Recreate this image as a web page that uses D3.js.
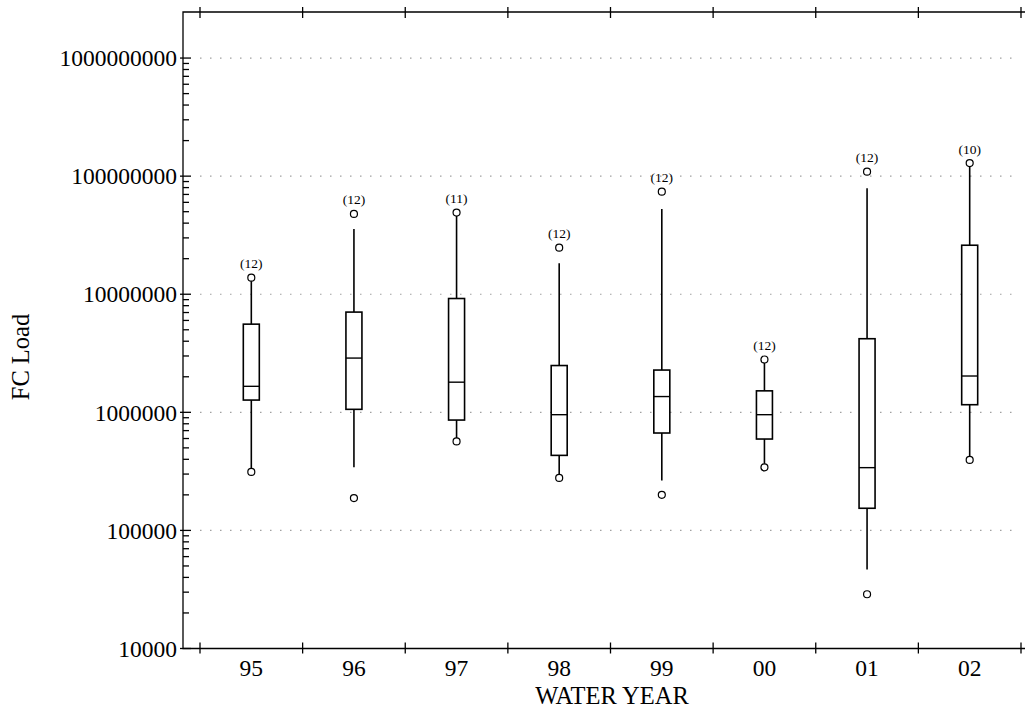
<!DOCTYPE html>
<html>
<head>
<meta charset="utf-8">
<script src="https://cdn.jsdelivr.net/npm/d3@7"></script>
<style>
    body { margin: 0; background: #fff; }
    svg { display: block; font-family: 'Liberation Serif', 'Times New Roman', serif; }
</style>
</head>
<body>
<div id="chart"></div>
<script>
// water years and sample counts
const years = [`95`, `96`, `97`, `98`, `99`, `00`, `01`, `02`]
const counts = [12, 12, 11, 12, 12, 12, 12, 10]

// box statistics (FC load)
const lowPoint = [313000, 188000, 567000, 278000, 200000, 342000, 28800, 395000]
const whiskerLow = [313000, 342000, 567000, 278000, 264000, 342000, 46600, 395000]
const q1 = [1270000, 1060000, 860000, 432000, 668000, 594000, 154000, 1160000]
const median = [1660000, 2880000, 1800000, 955000, 1360000, 955000, 340000, 2030000]
const q3 = [5580000, 7060000, 9200000, 2490000, 2280000, 1520000, 4200000, 26000000]
const whiskerHigh = [13800000, 35700000, 49100000, 18300000, 52800000, 2800000, 79000000, 129000000]
const highPoint = [13800000, 47900000, 49100000, 24800000, 73900000, 2800000, 109000000, 129000000]

const yTicks = [10000, 100000, 1000000, 10000000, 100000000, 1000000000]

const width = 1025, height = 712
const plotLeft = 183, plotTop = 12, plotBottom = 648.5, plotRight = 1025

const svg = d3.select(`#chart`).append(`svg`).attr(`width`, width).attr(`height`, height)

const x = d3.scaleBand().domain(years).range([200, 1021]).padding(0)
const y = d3.scaleLog().domain([1e4, Math.pow(10, 9.39)]).range([plotBottom, plotTop])

const boxHalf = 8

// dotted grid lines
svg.append(`g`).selectAll(`line`).data(yTicks.slice(1)).join(`line`)
    .attr(`x1`, 200).attr(`x2`, 1015)
    .attr(`y1`, d => y(d)).attr(`y2`, d => y(d))
    .attr(`stroke`, `#a0a0a0`).attr(`stroke-width`, 1.2).attr(`stroke-dasharray`, `1.5,8.5`)

// frame
const frame = svg.append(`g`).attr(`stroke`, `#000`).attr(`stroke-width`, 1.3).attr(`fill`, `none`)
frame.append(`path`).attr(`d`, `M${plotRight},${plotTop}H${plotLeft}V${plotBottom}H${plotRight}`)

// category boundary ticks top and bottom
const bounds = years.map(d => x(d)).concat([x.range()[1]])
frame.selectAll(`.tb`).data(bounds).join(`line`).attr(`class`, `tb`)
    .attr(`x1`, d => d).attr(`x2`, d => d).attr(`y1`, plotTop - 5).attr(`y2`, plotTop + 6)
frame.selectAll(`.bb`).data(bounds).join(`line`).attr(`class`, `bb`)
    .attr(`x1`, d => d).attr(`x2`, d => d).attr(`y1`, plotBottom - 6).attr(`y2`, plotBottom + 5)

// y major ticks
frame.selectAll(`.ym`).data(yTicks).join(`line`).attr(`class`, `ym`)
    .attr(`x1`, plotLeft - 3).attr(`x2`, plotLeft + 8).attr(`y1`, d => y(d)).attr(`y2`, d => y(d))

// y minor ticks
const minor = []
yTicks.slice(0, -1).forEach(d => { for (let k = 2; k <= 9; k++) minor.push(d * k) })
frame.selectAll(`.yn`).data(minor).join(`line`).attr(`class`, `yn`)
    .attr(`x1`, plotLeft).attr(`x2`, plotLeft + 6).attr(`y1`, d => y(d)).attr(`y2`, d => y(d))

// y tick labels
svg.append(`g`).selectAll(`text`).data(yTicks).join(`text`)
    .attr(`x`, plotLeft - 6).attr(`y`, d => y(d)).attr(`dy`, `0.35em`)
    .attr(`text-anchor`, `end`).attr(`font-size`, 23.5)
    .text(d => d3.format(`d`)(d))

// x tick labels
svg.append(`g`).selectAll(`text`).data(years).join(`text`)
    .attr(`x`, d => x(d) + x.bandwidth() / 2).attr(`y`, 675.5)
    .attr(`text-anchor`, `middle`).attr(`font-size`, 23.5)
    .text(d => d)

// axis titles
svg.append(`text`).attr(`x`, (plotLeft + plotRight) / 2 + 8).attr(`y`, 703.5)
    .attr(`text-anchor`, `middle`).attr(`font-size`, 24.5).text(`WATER YEAR`)
svg.append(`text`).attr(`transform`, `translate(29,357) rotate(-90)`)
    .attr(`text-anchor`, `middle`).attr(`font-size`, 24.5).text(`FC Load`)

// boxes
const boxes = svg.append(`g`).selectAll(`g`).data(years).join(`g`)
    .attr(`transform`, d => `translate(${x(d) + x.bandwidth() / 2},0)`)

boxes.append(`line`)
    .attr(`y1`, (d, i) => y(whiskerLow[i])).attr(`y2`, (d, i) => y(q1[i]))
    .attr(`stroke`, `#000`).attr(`stroke-width`, 1.6)
boxes.append(`line`)
    .attr(`y1`, (d, i) => y(q3[i])).attr(`y2`, (d, i) => y(whiskerHigh[i]))
    .attr(`stroke`, `#000`).attr(`stroke-width`, 1.6)
boxes.append(`rect`)
    .attr(`x`, -boxHalf).attr(`width`, boxHalf * 2)
    .attr(`y`, (d, i) => y(q3[i])).attr(`height`, (d, i) => y(q1[i]) - y(q3[i]))
    .attr(`fill`, `#fff`).attr(`stroke`, `#000`).attr(`stroke-width`, 1.6)
boxes.append(`line`)
    .attr(`x1`, -boxHalf).attr(`x2`, boxHalf)
    .attr(`y1`, (d, i) => y(median[i])).attr(`y2`, (d, i) => y(median[i]))
    .attr(`stroke`, `#000`).attr(`stroke-width`, 1.4)
boxes.append(`circle`).attr(`r`, 3.5).attr(`cy`, (d, i) => y(lowPoint[i]))
    .attr(`fill`, `#fff`).attr(`stroke`, `#000`).attr(`stroke-width`, 1.2)
boxes.append(`circle`).attr(`r`, 3.5).attr(`cy`, (d, i) => y(highPoint[i]))
    .attr(`fill`, `#fff`).attr(`stroke`, `#000`).attr(`stroke-width`, 1.2)
boxes.append(`text`)
    .attr(`y`, (d, i) => y(highPoint[i]) - 9.5)
    .attr(`text-anchor`, `middle`).attr(`font-size`, 13.5)
    .text((d, i) => `(${counts[i]})`)
</script>
</body>
</html>
